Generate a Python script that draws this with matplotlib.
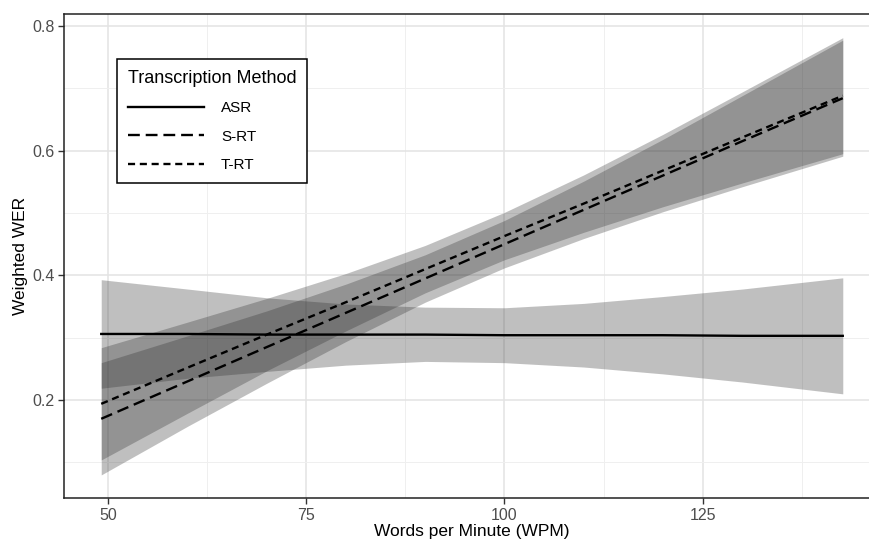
import numpy as np
import matplotlib
matplotlib.use('Agg')
import matplotlib.pyplot as plt
from matplotlib.ticker import MultipleLocator

plt.rcParams['font.family'] = ['Liberation Sans', 'DejaVu Sans']

wpm = [49.1, 60, 70, 80, 90, 100, 110, 120, 130, 142.7]

asr_fit = [0.306, 0.306, 0.305, 0.305, 0.305, 0.304, 0.304, 0.304, 0.303, 0.303]
asr_lo = [0.219, 0.235, 0.246, 0.256, 0.262, 0.260, 0.253, 0.242, 0.229, 0.210]
asr_hi = [0.393, 0.378, 0.364, 0.354, 0.349, 0.348, 0.355, 0.366, 0.378, 0.396]

srt_fit = [0.170, 0.230, 0.285, 0.340, 0.395, 0.450, 0.505, 0.560, 0.615, 0.684]
srt_lo = [0.080, 0.158, 0.227, 0.294, 0.357, 0.412, 0.459, 0.502, 0.542, 0.591]
srt_hi = [0.260, 0.303, 0.343, 0.386, 0.433, 0.488, 0.551, 0.618, 0.688, 0.777]

trt_fit = [0.194, 0.252, 0.305, 0.357, 0.410, 0.463, 0.515, 0.568, 0.621, 0.688]
trt_lo = [0.104, 0.179, 0.247, 0.311, 0.372, 0.425, 0.469, 0.510, 0.548, 0.595]
trt_hi = [0.284, 0.325, 0.363, 0.403, 0.448, 0.501, 0.561, 0.626, 0.694, 0.781]

methods = ['ASR', 'S-RT', 'T-RT']
fits = [asr_fit, srt_fit, trt_fit]
lows = [asr_lo, srt_lo, trt_lo]
highs = [asr_hi, srt_hi, trt_hi]
styles = ['-', (0, (5, 2.5)), (0, (3, 2))]

fig = plt.figure(figsize=(8.69, 5.46), dpi=100)
ax = fig.add_axes([64 / 869, 48 / 546, 816 / 869, 484 / 546])

for lo, hi in zip(lows, highs):
    ax.fill_between(wpm, lo, hi, color='#2e2e2e', alpha=0.3, linewidth=0, zorder=2)
for name, f, ls in zip(methods, fits, styles):
    ax.plot(wpm, f, color='black', linestyle=ls, linewidth=1.7, label=name, zorder=3)

ax.set_xlim(44.4, 147.4)
ax.set_ylim(0.043, 0.819)
ax.xaxis.set_minor_locator(MultipleLocator(12.5))
ax.yaxis.set_minor_locator(MultipleLocator(0.1))
ax.set_xticks([50, 75, 100, 125])
ax.set_xticklabels(['50', '75', '100', '125'])
ax.set_yticks([0.2, 0.4, 0.6, 0.8])
ax.set_yticklabels(['0.2', '0.4', '0.6', '0.8'])

ax.grid(which='major', color='#e3e3e3', linewidth=1.1, zorder=0)
ax.grid(which='minor', color='#efefef', linewidth=0.7, zorder=0)
ax.set_axisbelow(True)
ax.tick_params(which='major', length=4, width=1, color='#333333',
               labelsize=11.5, labelcolor='#4d4d4d', pad=3)
ax.tick_params(which='minor', length=0)
for s in ax.spines.values():
    s.set_color('#222222')
    s.set_linewidth(1.1)

ax.set_xlabel('Words per Minute (WPM)', fontsize=12.5, labelpad=1)
ax.set_ylabel('Weighted WER', fontsize=12.5, labelpad=3)

leg = ax.legend(title='Transcription Method', loc='upper left',
                bbox_to_anchor=(117 / 869, 1 - 59 / 546),
                bbox_transform=fig.transFigure, borderaxespad=0,
                fontsize=11, title_fontsize=13, handlelength=5.0,
                handletextpad=1.1, labelspacing=0.95, borderpad=0.7,
                fancybox=False, framealpha=1, edgecolor='black',
                alignment='left')
leg.get_frame().set_linewidth(1.1)

fig.savefig('out.png', dpi=100)
